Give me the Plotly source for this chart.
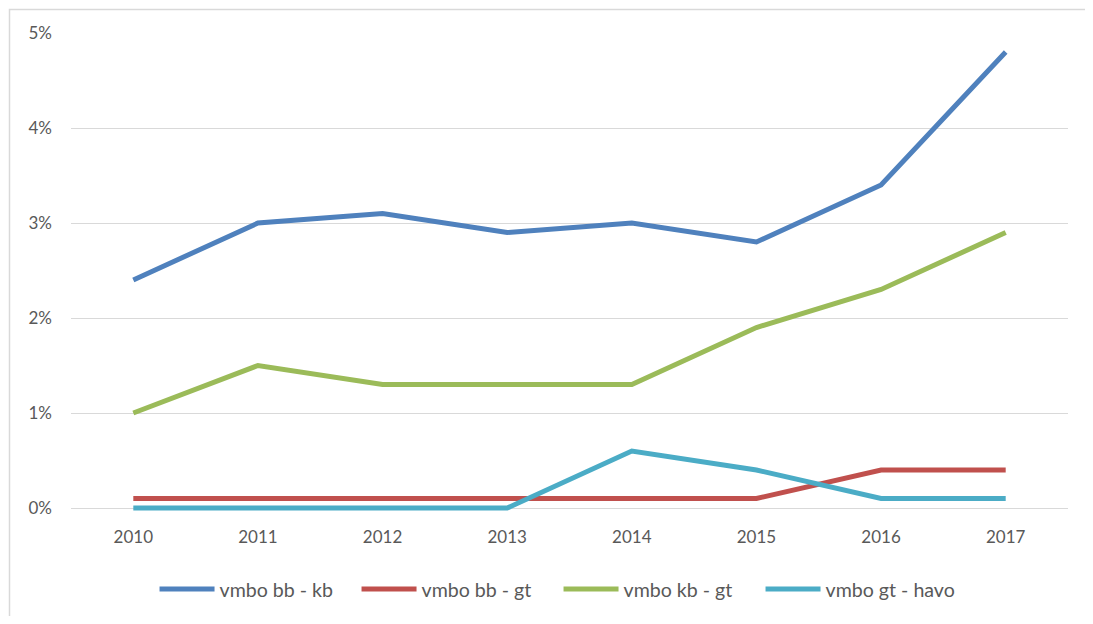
import plotly.graph_objects as go

years = ["2010", "2011", "2012", "2013", "2014", "2015", "2016", "2017"]
bb_kb = [0.024, 0.030, 0.031, 0.029, 0.030, 0.028, 0.034, 0.048]
bb_gt = [0.001, 0.001, 0.001, 0.001, 0.001, 0.001, 0.004, 0.004]
kb_gt = [0.010, 0.015, 0.013, 0.013, 0.013, 0.019, 0.023, 0.029]
gt_havo = [0.000, 0.000, 0.000, 0.000, 0.006, 0.004, 0.001, 0.001]
names = ["vmbo bb - kb", "vmbo bb - gt", "vmbo kb - gt", "vmbo gt - havo"]
colors = ["#4F81BD", "#C0504D", "#9BBB59", "#4BACC6"]

fig = go.Figure()
for name, vals, col in zip(names, [bb_kb, bb_gt, kb_gt, gt_havo], colors):
    fig.add_trace(go.Scatter(x=years, y=vals, name=name, mode="lines",
                             line=dict(color=col, width=5)))

tickfont = dict(family="Lato, Open Sans, sans-serif", size=17, color="#595959")
legfont = dict(family="Lato, Open Sans, sans-serif", size=19.6, color="#595959")
W, H = 1077, 608
L, T, R, B = 63, 25, 17, 105
pw, ph = W - L - R, H - T - B
pad = 3  # px below the 0% line so the zero-level line is not clipped
ymin = -pad / (ph - pad) * 0.05
fig.update_layout(
    width=W, height=H,
    margin=dict(l=L, r=R, t=T, b=B, autoexpand=False),
    paper_bgcolor="white", plot_bgcolor="white",
    font=tickfont,
    showlegend=True,
    legend=dict(orientation="h", x=0.489, xanchor="center", y=-(61.75 - pad) / ph,
                yanchor="top", font=legfont, itemwidth=55, entrywidth=132,
                tracegroupgap=0, traceorder="normal"),
    xaxis=dict(type="category", range=[-0.5, 7.5], showgrid=False, zeroline=False,
               showline=False, ticks="", ticklabelstandoff=17 - pad, tickfont=tickfont),
    yaxis=dict(range=[ymin, 0.05], tickvals=[0, 0.01, 0.02, 0.03, 0.04, 0.05],
               tickformat=".0%", showgrid=True,
               gridcolor="#d9d9d9", gridwidth=1, zeroline=False,
               showline=False, ticks="", ticklabelstandoff=18,
               tickfont=tickfont),
    shapes=[dict(type="rect", xref="paper", yref="paper",
                 x0=(1.5 - L) / pw, x1=(W + 20 - L) / pw,
                 y0=-(B + 20) / ph, y1=(ph + T - 1.5) / ph,
                 line=dict(color="#d9d9d9", width=1.5), fillcolor="rgba(0,0,0,0)",
                 layer="below")],
)
fig.write_html("out.html")
